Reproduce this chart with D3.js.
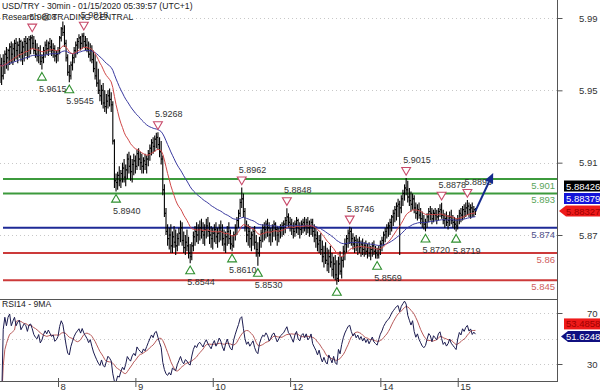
<!DOCTYPE html>
<html><head><meta charset="utf-8">
<script src="https://cdn.jsdelivr.net/npm/d3@7"></script>
<style>html,body{margin:0;padding:0;background:#fff;} svg{display:block;font-family:"Liberation Sans",Arial,sans-serif;}</style>
</head><body><svg id="c" width="600" height="392"></svg>
<script>
// ---- DATA (30-min bars, from Jan 7 06:00) ----
const highs = [
5.9700,5.9680,5.9700,5.9720,5.9740,5.9730,5.9760,
5.9770,5.9760,5.9780,5.9790,5.9770,5.9790,5.9780,5.9770,5.9790,5.9800,5.9790,5.9800,5.9805,
5.9808,5.9800,5.9780,5.9760,5.9740,5.9750,5.9700,5.9740,5.9770,5.9780,5.9770,5.9790,5.9780,5.9760,5.9750,5.9720,5.9740,
5.9800,5.9850,5.9880,5.9860,5.9780,5.9700,5.9640,5.9660,5.9700,5.9740,5.9770,5.9790,5.9810,5.9800,5.9815,
5.9818,5.9800,5.9790,5.9770,5.9760,5.9750,5.9720,5.9700,5.9660,5.9620,5.9560,5.9530,5.9540,5.9500,5.9480,5.9500,5.9510,5.9490,
5.9440,5.9230,5.9040,5.9050,5.9080,5.9060,5.9100,5.9120,5.9090,5.9150,5.9160,5.9140,5.9120,5.9150,5.9140,5.9170,5.9180,5.9160,5.9150,5.9130,5.9150,5.9140,5.9170,
5.9200,5.9230,5.9240,5.9250,5.9265,5.9268,5.9240,5.9220,
5.9140,5.8980,5.8850,5.8760,5.8740,5.8760,5.8720,5.8750,5.8730,5.8710,5.8740,5.8780,5.8770,5.8720,5.8700,5.8730,5.8690,5.8650,
5.8660,5.8720,5.8750,5.8770,5.8760,5.8780,5.8790,5.8770,5.8760,5.8790,5.8800,5.8770,5.8750,5.8740,5.8760,5.8770,5.8740,5.8760,5.8780,5.8760,5.8730,5.8720,5.8750,5.8770,5.8730,
5.8700,5.8720,5.8760,5.8800,5.8840,5.8900,5.8962,5.8930,5.8850,5.8780,5.8760,5.8750,5.8720,5.8740,5.8750,5.8700,5.8660,
5.8690,5.8730,5.8760,5.8770,5.8780,5.8790,5.8770,5.8740,5.8760,5.8780,5.8770,5.8750,5.8740,5.8760,5.8770,5.8780,5.8800,5.8848,
5.8820,5.8800,5.8790,5.8770,5.8780,5.8800,5.8790,5.8770,5.8780,5.8790,5.8800,5.8790,5.8800,5.8780,5.8790,5.8790,5.8760,5.8740,5.8720,5.8700,5.8710,
5.8670,5.8640,5.8660,5.8630,5.8620,5.8640,5.8600,5.8580,5.8590,5.8560,5.8580,5.8610,5.8580,5.8640,5.8680,5.8700,5.8730,5.8746,
5.8740,5.8710,5.8690,5.8700,5.8680,5.8690,5.8670,5.8680,5.8660,5.8670,5.8650,5.8660,5.8640,5.8660,5.8670,5.8640,5.8630,5.8640,
5.8670,5.8690,5.8720,5.8740,5.8760,5.8770,5.8790,5.8810,5.8840,5.8860,5.8880,5.8900,5.8890,5.8920,5.8950,5.8980,5.9015,
5.9000,5.8960,5.8940,5.8930,5.8920,5.8880,5.8870,5.8880,5.8850,5.8830,5.8810,5.8790,5.8820,5.8850,5.8860,5.8850,5.8840,5.8850,5.8840,5.8850,5.8870,5.8878,
5.8840,5.8820,5.8830,5.8810,5.8830,5.8840,5.8810,5.8800,5.8790,5.8810,5.8840,5.8850,5.8860,5.8870,5.8880,5.8893,5.8880,5.8870,5.8880,5.8860,5.8850];
const lows = [
5.9540,5.9530,5.9560,5.9590,5.9620,5.9610,5.9640,
5.9650,5.9640,5.9660,5.9670,5.9650,5.9680,5.9660,5.9640,5.9660,5.9690,5.9670,5.9680,5.9700,
5.9730,5.9700,5.9680,5.9660,5.9650,5.9640,5.9615,5.9650,5.9680,5.9700,5.9690,5.9710,5.9690,5.9680,5.9660,5.9650,5.9660,
5.9700,5.9770,5.9800,5.9740,5.9660,5.9580,5.9545,5.9560,5.9610,5.9650,5.9680,5.9700,5.9730,5.9720,5.9730,
5.9740,5.9720,5.9710,5.9680,5.9660,5.9650,5.9600,5.9560,5.9520,5.9480,5.9440,5.9420,5.9400,5.9380,5.9370,5.9400,5.9410,5.9380,
5.9200,5.8960,5.8940,5.8950,5.8970,5.8960,5.8990,5.8990,5.8970,5.9010,5.9040,5.9000,5.8990,5.9030,5.9040,5.9060,5.9080,5.9060,5.9040,5.9040,5.9060,5.9040,5.9080,
5.9110,5.9140,5.9150,5.9160,5.9180,5.9170,5.9130,5.9090,
5.8920,5.8800,5.8700,5.8640,5.8620,5.8600,5.8600,5.8630,5.8590,5.8610,5.8640,5.8660,5.8640,5.8600,5.8590,5.8610,5.8570,5.8544,
5.8560,5.8610,5.8640,5.8660,5.8650,5.8670,5.8680,5.8650,5.8640,5.8680,5.8690,5.8650,5.8630,5.8620,5.8660,5.8650,5.8630,5.8660,5.8670,5.8640,5.8610,5.8600,5.8640,5.8650,5.8620,
5.8610,5.8630,5.8670,5.8700,5.8740,5.8800,5.8850,5.8800,5.8720,5.8660,5.8640,5.8630,5.8610,5.8640,5.8620,5.8580,5.8530,
5.8580,5.8630,5.8660,5.8670,5.8680,5.8690,5.8660,5.8640,5.8660,5.8690,5.8670,5.8640,5.8660,5.8680,5.8690,5.8700,5.8710,5.8750,
5.8740,5.8720,5.8700,5.8680,5.8690,5.8710,5.8700,5.8680,5.8700,5.8710,5.8720,5.8700,5.8710,5.8690,5.8700,5.8690,5.8660,5.8630,5.8610,5.8600,5.8590,
5.8550,5.8520,5.8540,5.8500,5.8490,5.8520,5.8470,5.8460,5.8450,5.8425,5.8440,5.8480,5.8460,5.8520,5.8560,5.8600,5.8630,5.8650,
5.8640,5.8620,5.8600,5.8610,5.8590,5.8600,5.8580,5.8590,5.8580,5.8590,5.8570,5.8580,5.8560,5.8580,5.8590,5.8570,5.8569,5.8570,
5.8590,5.8610,5.8640,5.8660,5.8680,5.8690,5.8700,5.8720,5.8750,5.8770,5.8780,5.8800,5.8590,5.8820,5.8860,5.8890,5.8920,
5.8880,5.8860,5.8830,5.8840,5.8820,5.8790,5.8780,5.8790,5.8760,5.8740,5.8730,5.8720,5.8740,5.8770,5.8780,5.8760,5.8770,5.8780,5.8760,5.8780,5.8800,5.8790,
5.8760,5.8740,5.8750,5.8730,5.8750,5.8760,5.8740,5.8730,5.8719,5.8730,5.8760,5.8770,5.8780,5.8790,5.8800,5.8810,5.8800,5.8790,5.8800,5.8800,5.8810];
const closes = [
5.9640,5.9580,5.9660,5.9700,5.9680,5.9720,5.9740,
5.9700,5.9730,5.9760,5.9720,5.9750,5.9770,5.9710,5.9740,5.9770,5.9760,5.9720,5.9780,5.9790,
5.9760,5.9720,5.9700,5.9690,5.9720,5.9660,5.9680,5.9720,5.9750,5.9730,5.9760,5.9740,5.9720,5.9730,5.9690,5.9700,5.9720,
5.9790,5.9840,5.9820,5.9760,5.9680,5.9600,5.9580,5.9640,5.9680,5.9720,5.9750,5.9770,5.9790,5.9760,5.9800,
5.9770,5.9750,5.9730,5.9700,5.9720,5.9670,5.9620,5.9580,5.9540,5.9500,5.9470,5.9500,5.9430,5.9410,5.9440,5.9470,5.9450,5.9420,
5.9220,5.9000,5.8990,5.9030,5.9000,5.9040,5.9070,5.9020,5.9060,5.9120,5.9080,5.9050,5.9090,5.9110,5.9080,5.9150,5.9120,5.9100,5.9080,5.9110,5.9090,5.9120,5.9150,
5.9180,5.9210,5.9190,5.9230,5.9240,5.9200,5.9160,5.9120,
5.8950,5.8820,5.8720,5.8680,5.8700,5.8640,5.8690,5.8660,5.8640,5.8680,5.8710,5.8740,5.8670,5.8630,5.8660,5.8640,5.8600,5.8580,
5.8640,5.8690,5.8720,5.8700,5.8730,5.8740,5.8720,5.8700,5.8730,5.8750,5.8720,5.8700,5.8680,5.8710,5.8730,5.8690,5.8710,5.8740,5.8720,5.8680,5.8650,5.8690,5.8720,5.8680,5.8650,
5.8640,5.8700,5.8740,5.8780,5.8820,5.8880,5.8900,5.8830,5.8750,5.8700,5.8720,5.8680,5.8700,5.8720,5.8660,5.8620,5.8600,
5.8670,5.8710,5.8740,5.8730,5.8760,5.8740,5.8700,5.8720,5.8750,5.8760,5.8730,5.8700,5.8720,5.8740,5.8750,5.8760,5.8780,5.8800,
5.8770,5.8760,5.8740,5.8720,5.8760,5.8780,5.8740,5.8730,5.8760,5.8770,5.8750,5.8770,5.8740,5.8750,5.8770,5.8720,5.8700,5.8680,5.8650,5.8670,5.8620,
5.8580,5.8600,5.8560,5.8540,5.8580,5.8550,5.8510,5.8540,5.8480,5.8460,5.8540,5.8500,5.8560,5.8610,5.8650,5.8680,5.8710,5.8720,
5.8680,5.8650,5.8670,5.8640,5.8660,5.8630,5.8650,5.8620,5.8640,5.8610,5.8630,5.8600,5.8620,5.8640,5.8610,5.8600,5.8590,5.8620,
5.8650,5.8670,5.8700,5.8720,5.8740,5.8750,5.8770,5.8800,5.8820,5.8840,5.8860,5.8870,5.8850,5.8900,5.8930,5.8960,5.8950,
5.8910,5.8890,5.8870,5.8900,5.8850,5.8820,5.8840,5.8810,5.8790,5.8770,5.8760,5.8770,5.8800,5.8830,5.8820,5.8790,5.8820,5.8810,5.8800,5.8830,5.8840,5.8810,
5.8780,5.8790,5.8770,5.8780,5.8800,5.8780,5.8770,5.8760,5.8750,5.8790,5.8820,5.8810,5.8840,5.8830,5.8850,5.8860,5.8840,5.8850,5.8830,5.8840,5.8833];

const dayTickIdx = [36, 84, 132, 180, 236, 284];
const dayTickLabels = ["8", "9", "10", "12", "14", "15"];
const priceTicks = [5.87, 5.91, 5.95, 5.99];
const rsiGrid = [30, 50, 70];
const rsiTicks = [30, 70];

const levelValues = [5.901, 5.893, 5.874, 5.86, 5.845];
const levelLabels = ["5.901", "5.893", "5.874", "5.86", "5.845"];
const levelKinds = ["res", "res", "pivot", "sup", "sup"];

const markerIdx = [20, 26, 43, 52, 72, 98, 118, 144, 150, 160, 178, 209, 217, 234, 252, 264, 274, 283, 290];
const markerKind = ["H","L","L","H","L","H","L","L","H","L","H","L","H","L","H","L","H","L","H"];
const markerLabels = ["5.9808","5.9615","5.9545","5.9818","5.8940","5.9268","5.8544","5.8610","5.8962","5.8530","5.8848","5.8425","5.8746","5.8569","5.9015","5.8720","5.8878","5.8719","5.8893"];

const arrowFrom = [295, 5.8833];
const arrowTo = [306, 5.9043];

const priceBoxValues = [5.88426, 5.88379, 5.88327];
const priceBoxLabels = ["5.88426", "5.88379", "5.88327"];
const rsiBoxValues = [53.4858, 51.6248];
const rsiBoxLabels = ["53.4858", "51.6248"];

const titleText = "USD/TRY - 30min - 01/15/2020 05:39:57 (UTC+1)";
const subtitleText = "Research @ TRADING CENTRAL";
const rsiTitle = "RSI14 - 9MA";

// ---- STYLE ----
const levelColors = {res: "#3c9a3c", pivot: "#1e2a96", sup: "#cc3a3a"};
const levelTextColors = {res: "#5aa55a", pivot: "#50508a", sup: "#d06060"};

// ---- CHART ----
const svg = d3.select("#c");
const plotR = 557, mainTop = 0, mainBot = 298, rsiTop = 299, rsiBot = 381;
const n = Math.min(highs.length, lows.length, closes.length);
const x = d3.scaleLinear().domain([0, 345.6]).range([0, plotR]);
const y = d3.scaleLinear().domain([5.87, 5.99]).range([235, 18]);
const yr = d3.scaleLinear().domain([30, 70]).range([364, 313]);

const defs = svg.append("defs");
defs.append("clipPath").attr("id", "cm").append("rect").attr("x", 0).attr("y", mainTop).attr("width", plotR).attr("height", mainBot - mainTop);
defs.append("clipPath").attr("id", "cr").append("rect").attr("x", 0).attr("y", rsiTop + 1).attr("width", plotR).attr("height", rsiBot - rsiTop - 1);

// grid
svg.append("g").selectAll("line").data(priceTicks).join("line")
  .attr("x1", 0).attr("x2", plotR).attr("y1", d => Math.round(y(d)) + 0.5).attr("y2", d => Math.round(y(d)) + 0.5)
  .attr("stroke", "#c8c8c8").attr("stroke-dasharray", "1,3");
svg.append("g").selectAll("line").data(rsiGrid).join("line")
  .attr("x1", 0).attr("x2", plotR).attr("y1", d => Math.round(yr(d)) + 0.5).attr("y2", d => Math.round(yr(d)) + 0.5)
  .attr("stroke", "#c8c8c8").attr("stroke-dasharray", "1,3");

const gm = svg.append("g").attr("clip-path", "url(#cm)");

// levels
gm.selectAll("line.lv").data(levelValues).join("line").attr("class", "lv")
  .attr("x1", 3).attr("x2", plotR).attr("y1", d => y(d)).attr("y2", d => y(d))
  .attr("stroke", (d, i) => levelColors[levelKinds[i]]).attr("stroke-width", 2);

// bars
const idx = d3.range(n);
gm.append("g").selectAll("line").data(idx).join("line")
  .attr("x1", i => x(i)).attr("x2", i => x(i))
  .attr("y1", i => y(highs[i])).attr("y2", i => y(lows[i]))
  .attr("stroke", "#000").attr("stroke-width", 1.1);
gm.append("g").selectAll("line").data(idx).join("line")
  .attr("x1", i => x(i)).attr("x2", i => x(i) + 1.2)
  .attr("y1", i => y(closes[i])).attr("y2", i => y(closes[i]))
  .attr("stroke", "#000").attr("stroke-width", 1);
gm.append("g").selectAll("line").data(idx.slice(1)).join("line")
  .attr("x1", i => x(i) - 1.2).attr("x2", i => x(i))
  .attr("y1", i => y(closes[i - 1])).attr("y2", i => y(closes[i - 1]))
  .attr("stroke", "#000").attr("stroke-width", 1);

// moving averages
function ema(arr, p) { const k = 2 / (p + 1); let e = arr[0]; return arr.map((v, i) => (e = i ? v * k + e * (1 - k) : v)); }
const maFast = ema(closes.slice(0, n), 20);
const maSlow = ema(closes.slice(0, n), 50);
const lineP = arr => d3.line().x((d, i) => x(i)).y(d => y(d))(arr);
gm.append("path").attr("d", lineP(maSlow)).attr("fill", "none").attr("stroke", "#3a3aa0").attr("stroke-width", 1);
gm.append("path").attr("d", lineP(maFast)).attr("fill", "none").attr("stroke", "#d04848").attr("stroke-width", 1);

// level labels
svg.append("g").selectAll("text").data(levelValues).join("text")
  .attr("x", plotR - 2).attr("y", d => y(d) + 10).attr("text-anchor", "end")
  .attr("font-size", 9.5).attr("fill", (d, i) => levelTextColors[levelKinds[i]]).text((d, i) => levelLabels[i]);

// markers
const tri = d3.symbol().type(d3.symbolTriangle).size(34);
markerIdx.forEach((mi, k) => {
  const isH = markerKind[k] === "H";
  const px = x(mi);
  const py = isH ? y(highs[mi]) : y(lows[mi]);
  const ty = isH ? py - 8 : py + 8;
  gm.append("path").attr("d", tri).attr("transform", `translate(${px},${ty}) rotate(${isH ? 180 : 0})`)
    .attr("fill", "#fff").attr("stroke", isH ? "#c84a6a" : "#2f8f2f").attr("stroke-width", 1.1);
  gm.append("text").attr("x", px - 3).attr("y", isH ? py - 15 : py + 22)
    .attr("font-size", 9).attr("fill", "#333").text(markerLabels[k]);
});

// forecast arrow
const ax1 = x(arrowFrom[0]), ay1 = y(arrowFrom[1]), ax2 = x(arrowTo[0]), ay2 = y(arrowTo[1]);
const ang = Math.atan2(ay2 - ay1, ax2 - ax1);
const hl = 10, hw = 4.5;
const bx = ax2 - hl * Math.cos(ang), by = ay2 - hl * Math.sin(ang);
gm.append("line").attr("x1", ax1).attr("y1", ay1).attr("x2", bx).attr("y2", by).attr("stroke", "#142a8c").attr("stroke-width", 2);
gm.append("path").attr("d", `M${ax2},${ay2}L${bx - hw * Math.sin(ang)},${by + hw * Math.cos(ang)}L${bx + hw * Math.sin(ang)},${by - hw * Math.cos(ang)}Z`).attr("fill", "#142a8c");

// RSI
function rsi(c, p) {
  const out = [null]; let ag = 0, al = 0;
  for (let i = 1; i < c.length; i++) {
    const d = c[i] - c[i - 1], g = Math.max(d, 0), l = Math.max(-d, 0);
    const m = Math.min(i, p);
    ag = (ag * (m - 1) + g) / m; al = (al * (m - 1) + l) / m;
    out.push(al === 0 ? 100 : 100 - 100 / (1 + ag / al));
  }
  return out;
}
const rsiV = rsi(closes.slice(0, n), 14);
const rsiMA = rsiV.map((v, i) => { if (v == null) return null; const s = rsiV.slice(Math.max(1, i - 8), i + 1); return d3.mean(s); });
const gr = svg.append("g").attr("clip-path", "url(#cr)");
const lineR = d3.line().defined(d => d != null).x((d, i) => x(i)).y(d => yr(d));
gr.append("path").attr("d", lineR(rsiMA)).attr("fill", "none").attr("stroke", "#b85a5a").attr("stroke-width", 1);
gr.append("path").attr("d", lineR(rsiV)).attr("fill", "none").attr("stroke", "#1c1c50").attr("stroke-width", 1);

// frames
svg.append("line").attr("x1", plotR + 0.5).attr("x2", plotR + 0.5).attr("y1", 0).attr("y2", rsiBot + 0.5).attr("stroke", "#555");
svg.append("line").attr("x1", 0).attr("x2", plotR + 1).attr("y1", rsiTop + 0.5).attr("y2", rsiTop + 0.5).attr("stroke", "#555");
svg.append("line").attr("x1", 0).attr("x2", plotR + 1).attr("y1", rsiBot + 0.5).attr("y2", rsiBot + 0.5).attr("stroke", "#555");

// right axes
const yAxis = d3.axisRight(y).tickValues(priceTicks).tickSize(5).tickFormat(d3.format(".2f"));
const ga = svg.append("g").attr("transform", `translate(${plotR + 0.5},0)`).call(yAxis);
const yrAxis = d3.axisRight(yr).tickValues(rsiTicks).tickSize(5).tickFormat(d3.format("d"));
const gb = svg.append("g").attr("transform", `translate(${plotR + 0.5},0)`).call(yrAxis);
[ga, gb].forEach(g => {
  g.select(".domain").remove();
  g.selectAll(".tick line").attr("stroke", "#555");
  g.selectAll(".tick text").attr("x", 40).attr("text-anchor", "end").attr("font-size", 9.5).attr("fill", "#333").attr("font-family", "Liberation Sans, Arial, sans-serif");
});

// bottom axis
const xAxis = d3.axisBottom(x).tickValues(dayTickIdx).tickSize(6).tickFormat((d, i) => dayTickLabels[i]);
const gx = svg.append("g").attr("transform", `translate(0,${rsiBot})`).call(xAxis);
gx.select(".domain").remove();
gx.selectAll(".tick line").attr("stroke", "#555").attr("y1", -3);
gx.selectAll(".tick text").attr("text-anchor", "start").attr("dx", 2).attr("y", 2).attr("dy", "0.71em").attr("font-size", 9.5).attr("fill", "#333").attr("font-family", "Liberation Sans, Arial, sans-serif");

// price boxes
const boxFill = ["#000", "#1414d8", "#ee1a1a"], boxText = ["#fff", "#fff", "#a00000"];
const baseY = y(priceBoxValues[2]);
priceBoxLabels.forEach((lab, k) => {
  const cy = baseY - (2 - k) * 12.5;
  if (k === 2) {
    svg.append("path").attr("d", `M${plotR + 2},${cy}L${plotR + 9},${cy - 5.5}L600,${cy - 5.5}L600,${cy + 5.5}L${plotR + 9},${cy + 5.5}Z`).attr("fill", boxFill[k]);
  } else {
    svg.append("rect").attr("x", 564).attr("y", cy - 5.5).attr("width", 36).attr("height", 11).attr("fill", boxFill[k]);
  }
  svg.append("text").attr("x", 566).attr("y", cy + 3.5).attr("font-size", 9.5).attr("fill", boxText[k]).text(lab);
});
const rBase = yr(rsiBoxValues[1]);
rsiBoxLabels.forEach((lab, k) => {
  const cy = rBase - (1 - k) * 12.5;
  if (k === 1) {
    svg.append("path").attr("d", `M${plotR + 4},${cy}L${plotR + 11},${cy - 5.5}L600,${cy - 5.5}L600,${cy + 5.5}L${plotR + 11},${cy + 5.5}Z`).attr("fill", "#101080");
  } else {
    svg.append("rect").attr("x", 564).attr("y", cy - 5.5).attr("width", 36).attr("height", 11).attr("fill", "#ee1a1a");
  }
  svg.append("text").attr("x", 566).attr("y", cy + 3.5).attr("font-size", 9.5).attr("fill", k === 1 ? "#fff" : "#a00000").text(lab);
});

// titles
svg.append("text").attr("x", 2).attr("y", 9).attr("font-size", 8.6).attr("fill", "#222").text(titleText);
svg.append("text").attr("x", 2).attr("y", 19.5).attr("font-size", 8.6).attr("fill", "#222").text(subtitleText);
svg.append("text").attr("x", 2).attr("y", 307).attr("font-size", 8.6).attr("fill", "#222").text(rsiTitle);
</script></body></html>
